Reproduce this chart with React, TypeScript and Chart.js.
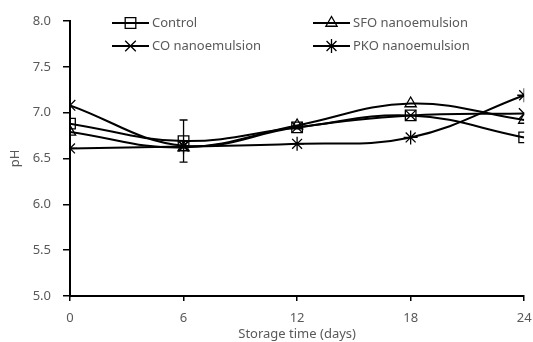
import React, { useEffect, useRef } from "react";
import { Chart, registerables } from "chart.js";
import { drawPoint } from "chart.js/helpers";

Chart.register(...registerables);

const days = [0, 6, 12, 18, 24];
const seriesNames = ["Control", "SFO nanoemulsion", "CO nanoemulsion", "PKO nanoemulsion"];
const control = [6.88, 6.69, 6.84, 6.97, 6.73];
const sfo = [6.79, 6.62, 6.86, 7.1, 6.92];
const co = [7.08, 6.64, 6.84, 6.97, 6.99];
const pko = [6.61, 6.63, 6.66, 6.73, 7.19];
const controlErr = [0, 0.23, 0, 0, 0];
const yTicks = [5.0, 5.5, 6.0, 6.5, 7.0, 7.5, 8.0];

const styles = ["rect", "triangle", "crossRot", "star"];
const radii = [7.5, 6.5, 7.5, 7];
const TEXT = "#595959";
const FONT = "'Noto Sans', sans-serif";

export default function App() {
  const ref = useRef<HTMLCanvasElement>(null);
  useEffect(() => {
    const all = [control, sfo, co, pko];
    const errs = [controlErr, null, null, null];
    const datasets = all.map((vals, i) => ({
      label: seriesNames[i],
      data: days.map((d, j) => ({ x: d, y: vals[j] })),
      borderColor: "#000",
      backgroundColor: "rgba(0,0,0,0)",
      borderWidth: 2,
      tension: 0.4,
      pointStyle: styles[i],
      pointRadius: radii[i],
      pointBorderColor: "#000",
      pointBackgroundColor: "rgba(0,0,0,0)",
      pointBorderWidth: 1.3,
    }));

    const errorBars = {
      id: "errorBars",
      afterDatasetsDraw(chart: any) {
        const ctx = chart.ctx;
        const xs = chart.scales.x;
        const ys = chart.scales.y;
        ctx.save();
        ctx.strokeStyle = "#000";
        ctx.lineWidth = 1.3;
        errs.forEach((e, i) => {
          if (!e) return;
          e.forEach((err, j) => {
            if (!err) return;
            const px = xs.getPixelForValue(days[j]);
            const top = ys.getPixelForValue(all[i][j] + err);
            const bot = ys.getPixelForValue(all[i][j] - err);
            ctx.beginPath();
            ctx.moveTo(px, top);
            ctx.lineTo(px, bot);
            ctx.moveTo(px - 4, top);
            ctx.lineTo(px + 4, top);
            ctx.moveTo(px - 4, bot);
            ctx.lineTo(px + 4, bot);
            ctx.stroke();
          });
        });
        ctx.restore();
      },
    };

    const legendPlugin = {
      id: "customLegend",
      afterDraw(chart: any) {
        const ctx = chart.ctx;
        const pos = [
          { x: 112, y: 23 },
          { x: 313, y: 23 },
          { x: 112, y: 46 },
          { x: 313, y: 46 },
        ];
        ctx.save();
        pos.forEach((p, i) => {
          ctx.strokeStyle = "#000";
          ctx.lineWidth = 2;
          ctx.beginPath();
          ctx.moveTo(p.x, p.y);
          ctx.lineTo(p.x + 37, p.y);
          ctx.stroke();
          ctx.lineWidth = 1.3;
          ctx.fillStyle = "rgba(0,0,0,0)";
          drawPoint(ctx, { pointStyle: styles[i], radius: radii[i], rotation: 0, borderWidth: 1.3 }, p.x + 18.5, p.y);
          ctx.fillStyle = TEXT;
          ctx.font = `13px ${FONT}`;
          ctx.textBaseline = "middle";
          ctx.textAlign = "left";
          ctx.fillText(seriesNames[i], p.x + 40, p.y);
        });
        ctx.restore();
      },
    };

    const chart = new Chart(ref.current!, {
      type: "line",
      data: { datasets },
      options: {
        animation: false,
        responsive: false,
        layout: { padding: { left: 0, top: 21, right: 4, bottom: 0 } },
        plugins: { legend: { display: false }, tooltip: { enabled: false } },
        scales: {
          x: {
            type: "linear",
            min: 0,
            max: 24,
            afterFit(scale: any) {
              scale.height = 46;
              scale.paddingLeft = 0;
              scale.paddingRight = 0;
            },
            afterBuildTicks(scale: any) {
              scale.ticks = days.map((d) => ({ value: d }));
            },
            ticks: { color: TEXT, font: { size: 13, family: FONT }, padding: 9 },
            grid: { drawOnChartArea: false, drawTicks: true, tickLength: 5, color: "#000", lineWidth: 1.5 },
            border: { display: true, color: "#000", width: 2 },
            title: {
              display: true,
              text: "Storage time (days)",
              color: TEXT,
              font: { size: 13, family: FONT },
              padding: { top: -4, bottom: 0 },
            },
          },
          y: {
            min: 5,
            max: 8,
            afterFit(scale: any) {
              scale.width = 70;
              scale.paddingTop = 0;
              scale.paddingBottom = 0;
            },
            afterBuildTicks(scale: any) {
              scale.ticks = yTicks.map((v) => ({ value: v }));
            },
            ticks: {
              color: TEXT,
              font: { size: 13, family: FONT },
              padding: 12,
              callback: (v: any) => Number(v).toFixed(1),
            },
            grid: { drawOnChartArea: false, drawTicks: true, tickLength: 7, color: "#000", lineWidth: 1.5 },
            border: { display: true, color: "#000", width: 2 },
            title: {
              display: true,
              text: "pH",
              color: TEXT,
              font: { size: 13, family: FONT },
              padding: { top: 7, bottom: 0 },
            },
          },
        },
      },
      plugins: [errorBars, legendPlugin],
    } as any);
    return () => chart.destroy();
  }, []);

  return (
    <div style={{ position: "fixed", left: 0, top: 0, width: 533, height: 342, background: "#fff" }}>
      <canvas ref={ref} width={533} height={342} />
    </div>
  );
}
